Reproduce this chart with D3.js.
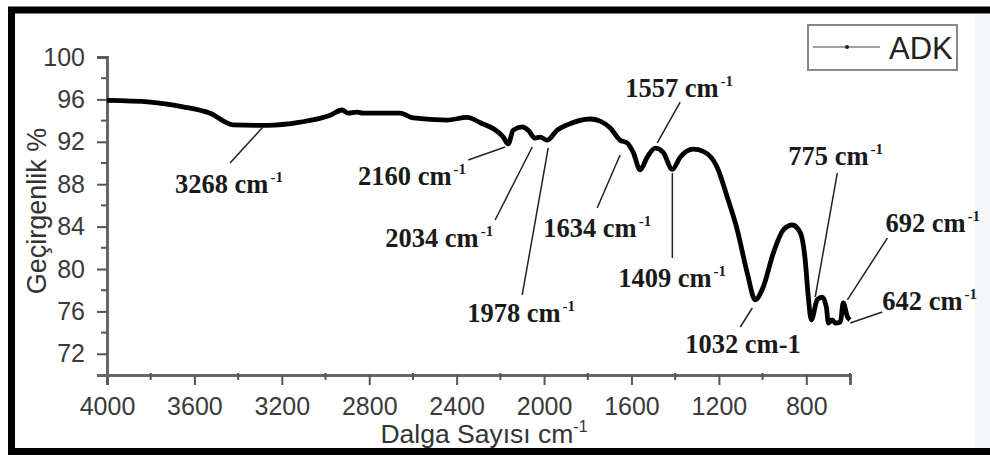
<!DOCTYPE html>
<html>
<head>
<meta charset="utf-8">
<script src="https://cdn.jsdelivr.net/npm/d3@7"></script>
<style>
  body { margin: 0; background: #fff; }
  svg { display: block; }
  .tick text { font-family: "Liberation Sans", Arial, sans-serif; fill: #3a3a3a; }
  .lbl { font-family: "Liberation Serif", "Times New Roman", serif; font-weight: bold; fill: #1a1a1a; }
</style>
</head>
<body>
<svg id="chart" width="990" height="457"></svg>
<script>
// FTIR spectrum, ADK sample (wavenumber cm-1 -> transmittance %)
var wavenumbers = [4000, 3803, 3652, 3528, 3423, 3268, 3116, 2979, 2924, 2897, 2856, 2828, 2659, 2599, 2444, 2352, 2292, 2187, 2164, 2141, 2100, 2073, 2041, 2018, 1986, 1940, 1894, 1789, 1743, 1697, 1652, 1620, 1592, 1560, 1528, 1491, 1455, 1413, 1377, 1317, 1272, 1208, 1162, 1116, 1070, 1034, 997, 951, 905, 864, 827, 805, 791, 777, 750, 727, 708, 699, 681, 667, 644, 631, 612, 600];
var transmittance = [95.9, 95.75, 95.3, 94.7, 93.6, 93.55, 93.85, 94.5, 95.0, 94.7, 94.8, 94.7, 94.7, 94.25, 94.05, 94.3, 93.8, 92.45, 91.8, 93.1, 93.4, 93.1, 92.35, 92.45, 92.15, 93.1, 93.6, 94.15, 93.95, 93.3, 92.15, 91.9, 91.0, 89.35, 90.55, 91.4, 91.0, 89.4, 90.55, 91.3, 91.1, 89.6, 86.8, 83.7, 79.6, 77.1, 78.3, 81.5, 83.7, 84.15, 83.4, 80.85, 77.4, 75.2, 77.1, 77.35, 76.4, 74.9, 75.2, 74.9, 75.0, 76.8, 75.5, 75.2];

var xTicks = [4000, 3600, 3200, 2800, 2400, 2000, 1600, 1200, 800];
var xMinor = [3800, 3400, 3000, 2600, 2200, 1800, 1400, 1000, 600];
var yTicks = [72, 76, 80, 84, 88, 92, 96, 100];
var yMinor = [74, 78, 82, 86, 90, 94, 98];

// peak annotations: text, leader line start/end and text anchor in data units
var peakNames = ["3268", "2160", "2034", "1978", "1634", "1409", "1557", "775", "692", "642", "1032"];
var peakSup = [true, true, true, true, true, true, true, true, true, true, false];
var lineFrom = [[3437, 90.0], [2347, 90.28], [2224, 84.62], [2100, 77.55], [1757, 85.75], [1413, 81.04], [1377, 95.75], [658, 89.06], [429, 82.92], [452, 75.94], [1102, 74.53]];
var lineTo = [[3286, 93.4], [2178, 91.51], [2054, 91.51], [1981, 91.42], [1652, 90.75], [1413, 89.06], [1482, 91.89], [759, 77.36], [612, 77.08], [599, 74.91], [1047, 76.32]];
var textAt = [[3689, 87.17], [2851, 87.92], [2727, 82.08], [2352, 75.0], [2004, 83.02], [1661, 78.3], [1629, 96.23], [882, 89.81], [438, 83.49], [452, 76.13], [1354, 72.08]];

var svg = d3.select("#chart");
var margin = {left: 107, right: 140, top: 57, bottom: 82};
var W = 990, H = 457;

var x = d3.scaleLinear().domain([4000, 600]).range([margin.left, W - margin.right]);
var y = d3.scaleLinear().domain([70, 100]).range([H - margin.bottom, margin.top]);

// faint strip at the right edge and the thick outer frame
svg.append("rect").attr("x", 975).attr("y", 13).attr("width", 15).attr("height", 435).attr("fill", "#f3f7fa");
svg.append("rect")
  .attr("x", 11.5).attr("y", 10)
  .attr("width", 1000).attr("height", 441.5)
  .attr("fill", "none").attr("stroke", "#000").attr("stroke-width", 7);

// x axis
var gx = svg.append("g").attr("transform", "translate(0," + y(70) + ")");
gx.call(d3.axisBottom(x).tickValues(xTicks).tickSize(10).tickPadding(12).tickFormat(d3.format("d")));
gx.selectAll(".tick text").attr("font-size", 25);
gx.selectAll("line").attr("stroke", "#555").attr("stroke-width", 2);
gx.select(".domain").attr("stroke", "#666").attr("stroke-width", 3);
gx.selectAll(".minor").data(xMinor).enter().append("line")
  .attr("x1", function(d){ return x(d); }).attr("x2", function(d){ return x(d); })
  .attr("y1", -2).attr("y2", 5).attr("stroke", "#555").attr("stroke-width", 2);

// y axis
var gy = svg.append("g").attr("transform", "translate(" + x(4000) + ",0)");
gy.call(d3.axisLeft(y).tickValues(yTicks).tickSize(10).tickPadding(12));
gy.selectAll(".tick text").attr("font-size", 25);
gy.selectAll("line").attr("stroke", "#555").attr("stroke-width", 2);
gy.select(".domain").attr("stroke", "#666").attr("stroke-width", 3);
gy.selectAll(".minor").data(yMinor).enter().append("line")
  .attr("x1", -6).attr("x2", 0)
  .attr("y1", function(d){ return y(d); }).attr("y2", function(d){ return y(d); })
  .attr("stroke", "#555").attr("stroke-width", 2);

// axis titles
var xt = svg.append("text")
  .attr("x", 484).attr("y", 443)
  .attr("text-anchor", "middle")
  .attr("font-family", "Liberation Sans, Arial, sans-serif")
  .attr("font-size", 26.5).attr("fill", "#333")
  .text("Dalga Sayısı cm");
xt.append("tspan").attr("font-size", 16).attr("dy", -11).text("-1");

svg.append("text")
  .attr("transform", "translate(46,211) rotate(-90)")
  .attr("text-anchor", "middle")
  .attr("font-family", "Liberation Sans, Arial, sans-serif")
  .attr("font-size", 27).attr("fill", "#333")
  .text("Geçirgenlik %");

// spectrum
var spectrum = wavenumbers.map(function(d, i){ return {v: d, t: transmittance[i]}; });
var line = d3.line()
  .x(function(d){ return x(d.v); })
  .y(function(d){ return y(d.t); })
  .curve(d3.curveMonotoneX);

svg.append("path")
  .datum(spectrum)
  .attr("d", line)
  .attr("fill", "none")
  .attr("stroke", "#000")
  .attr("stroke-width", 4.8)
  .attr("stroke-linejoin", "round");

// annotations
peakNames.forEach(function(name, i){
  svg.append("line")
    .attr("x1", x(lineFrom[i][0])).attr("y1", y(lineFrom[i][1]))
    .attr("x2", x(lineTo[i][0])).attr("y2", y(lineTo[i][1]))
    .attr("stroke", "#222").attr("stroke-width", 1.5);

  var t = svg.append("text")
    .attr("class", "lbl")
    .attr("x", x(textAt[i][0])).attr("y", y(textAt[i][1]))
    .attr("font-size", 26.5);
  if (peakSup[i]) {
    t.text(name + " cm");
    t.append("tspan").attr("font-size", 15).attr("dx", 2).attr("dy", -11).text("-1");
  } else {
    t.text(name + " cm-1");
  }
});

// legend
var lg = svg.append("g");
lg.append("rect").attr("x", 808).attr("y", 25).attr("width", 149).attr("height", 45)
  .attr("fill", "#fff").attr("stroke", "#888").attr("stroke-width", 2);
lg.append("line").attr("x1", 813).attr("x2", 880).attr("y1", 47).attr("y2", 47)
  .attr("stroke", "#444").attr("stroke-width", 1.2);
lg.append("circle").attr("cx", 847).attr("cy", 47).attr("r", 2).attr("fill", "#222");
lg.append("text").attr("x", 889).attr("y", 59)
  .attr("font-family", "Liberation Sans, Arial, sans-serif")
  .attr("font-size", 31).attr("fill", "#222")
  .text("ADK");
</script>
</body>
</html>
